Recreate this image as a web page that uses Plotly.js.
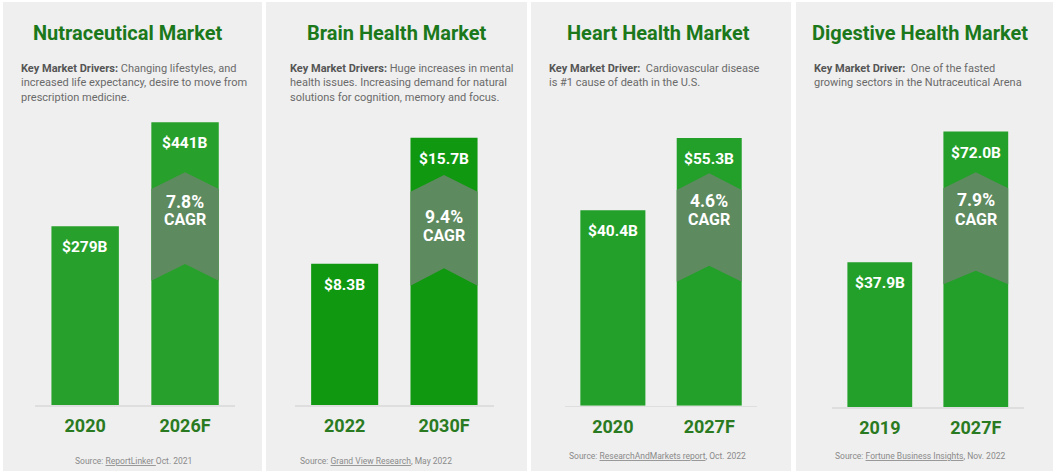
<!DOCTYPE html>
<html>
<head>
<meta charset="utf-8">
<script src="https://cdn.plot.ly/plotly-3.0.1.min.js"></script>
<style>
  html, body { margin: 0; padding: 0; background: #ffffff; }
  #chart { width: 1057px; height: 473px; }
</style>
</head>
<body>
<div id="chart"></div>
<script>
// ---------------- DATA ----------------
const panelTitles = ['Nutraceutical Market', 'Brain Health Market', 'Heart Health Market', 'Digestive Health Market'];

const nutraYears = ['2020', '2026F'];
const nutraValues = [279, 441];
const nutraLabels = ['$279B', '$441B'];

const brainYears = ['2022', '2030F'];
const brainValues = [8.3, 15.7];
const brainLabels = ['$8.3B', '$15.7B'];

const heartYears = ['2020', '2027F'];
const heartValues = [40.4, 55.3];
const heartLabels = ['$40.4B', '$55.3B'];

const digestYears = ['2019', '2027F'];
const digestValues = [37.9, 72.0];
const digestLabels = ['$37.9B', '$72.0B'];

const cagrLabels = ['7.8%', '9.4%', '4.6%', '7.9%'];

const driverTexts = [
  '<b>Key Market Drivers:</b> Changing lifestyles, and<br>increased life expectancy, desire to move from<br>prescription medicine.',
  '<b>Key Market Drivers:</b> Huge increases in mental<br>health issues. Increasing demand for natural<br>solutions for cognition, memory and focus.',
  '<b>Key Market Driver:</b>  Cardiovascular disease<br>is #1 cause of death in the U.S.',
  '<b>Key Market Driver:</b>  One of the fasted<br>growing sectors in the Nutraceutical Arena'
];

const sourceTexts = [
  'Source: <u>ReportLinker </u>Oct. 2021',
  'Source: <u>Grand View Research</u>, May 2022',
  'Source: <u>ResearchAndMarkets report</u>, Oct. 2022',
  'Source: <u>Fortune Business Insights</u>, Nov. 2022'
];

const panelYears = [nutraYears, brainYears, heartYears, digestYears];
const panelValues = [nutraValues, brainValues, heartValues, digestValues];
const panelLabels = [nutraLabels, brainLabels, heartLabels, digestLabels];

// ---------------- STYLE / LAYOUT GEOMETRY (pixels) ----------------
const W = 1057, H = 473;
const FONT = 'Roboto, "Open Sans", Arial, sans-serif';
const geom = [
  {bg: [3, 262],   plot: [35.2, 235.0],  base: 405,   k: 0.641, titleX: 127.5, drvX: 19,    srcX: 133,   srcY: 461, chev: [172.3, 189, 264, 280.7],   pctY: 201.7, cagrY: 220,   color: '#27a12b'},
  {bg: [266, 527], plot: [295.0, 493.7], base: 405,   k: 17.03, titleX: 397,   drvX: 287.7, srcX: 376,   srcY: 461, chev: [175, 191.7, 268.3, 285.7], pctY: 216.7, cagrY: 235.7, color: '#109810'},
  {bg: [531, 791], plot: [564.7, 757.4], base: 405.7, k: 4.84,  titleX: 658.5, drvX: 546.7, srcX: 657,   srcY: 456, chev: [173.3, 190, 265.7, 281.7], pctY: 201,   cagrY: 220,   color: '#22a02a'},
  {bg: [796, 1053],plot: [831.8, 1023.8],base: 407.3, k: 3.83,  titleX: 920,   drvX: 811.7, srcX: 919.5, srcY: 456, chev: [172.3, 188.3, 270.7, 284.3], pctY: 200, cagrY: 219,   color: '#22a02a'}
];
const PLOT_TOP = 100;
const BAR_W = 0.675;
const px = x => x / W;
const py = y => 1 - y / H;

const data = [];
const shapes = [];
const annotations = [];
const layout = {
  width: W, height: H,
  margin: {l: 0, r: 0, t: 0, b: 0},
  paper_bgcolor: '#ffffff',
  plot_bgcolor: 'rgba(0,0,0,0)',
  showlegend: false,
  font: {family: FONT},
  shapes: shapes,
  annotations: annotations
};

geom.forEach((g, i) => {
  const sfx = i === 0 ? '' : String(i + 1);
  const xa = 'x' + sfx, ya = 'y' + sfx;

  // panel background
  shapes.push({type: 'rect', xref: 'paper', yref: 'paper', layer: 'below',
    x0: px(g.bg[0]), x1: px(g.bg[1]), y0: py(471), y1: py(2),
    fillcolor: '#efefef', line: {width: 0}});

  data.push({
    type: 'bar', x: [0, 1], y: panelValues[i], width: [BAR_W, BAR_W],
    xaxis: xa, yaxis: ya,
    marker: {color: g.color, line: {width: 0}},
    hoverinfo: 'skip'
  });

  layout['xaxis' + sfx] = {
    domain: [px(g.plot[0]), px(g.plot[1])],
    range: [-0.5, 1.5], anchor: ya, fixedrange: true,
    tickvals: [0, 1], ticktext: panelYears[i], ticks: '',
    ticklabelstandoff: 4,
    tickfont: {family: FONT, size: 18, color: '#2a7a22', weight: 'bold'},
    showline: true, linecolor: '#dedede', linewidth: 1.5,
    showgrid: false, zeroline: false
  };
  layout['yaxis' + sfx] = {
    domain: [py(g.base), py(PLOT_TOP)],
    range: [0, (g.base - PLOT_TOP) / g.k], anchor: xa,
    visible: false, showgrid: false, zeroline: false, fixedrange: true
  };

  // CAGR chevron on the forecast bar
  const [cTop, cSh, cNotch, cBot] = g.chev;
  const l = 1 - BAR_W / 2, r = 1 + BAR_W / 2;
  shapes.push({type: 'path', xref: xa, yref: 'paper',
    path: `M ${l},${py(cSh)} L 1,${py(cTop)} L ${r},${py(cSh)} L ${r},${py(cBot)} L 1,${py(cNotch)} L ${l},${py(cBot)} Z`,
    fillcolor: '#5e8a5f', line: {width: 0}, layer: 'above'});

  // value labels inside bars
  panelValues[i].forEach((v, j) => {
    annotations.push({xref: xa, yref: ya, x: j, y: v, yanchor: 'middle', yshift: -21,
      text: '<b>' + panelLabels[i][j] + '</b>', showarrow: false,
      font: {family: FONT, size: 15.5, color: '#ffffff'}});
  });

  annotations.push({xref: xa, yref: 'paper', x: 1, y: py(g.pctY), yanchor: 'middle',
    text: '<b>' + cagrLabels[i] + '</b>', showarrow: false,
    font: {family: FONT, size: 17.5, color: '#ffffff'}});
  annotations.push({xref: xa, yref: 'paper', x: 1, y: py(g.cagrY), yanchor: 'middle',
    text: '<b>CAGR</b>', showarrow: false,
    font: {family: FONT, size: 16, color: '#ffffff'}});

  // title
  annotations.push({xref: 'paper', yref: 'paper', x: px(g.titleX), y: py(33),
    xanchor: 'center', yanchor: 'middle', showarrow: false,
    text: '<b>' + panelTitles[i] + '</b>',
    font: {family: FONT, size: 20, color: '#1b781b'}});

  // drivers
  annotations.push({xref: 'paper', yref: 'paper', x: px(g.drvX), y: py(60),
    xanchor: 'left', yanchor: 'top', align: 'left', showarrow: false,
    text: driverTexts[i].replace(/<b>/g, '<b><span style="color:#555555">').replace(/<\/b>/g, '</span></b>'),
    font: {family: FONT, size: 11, color: '#6a6a6a'}});

  // source
  annotations.push({xref: 'paper', yref: 'paper', x: px(g.srcX), y: py(g.srcY),
    xanchor: 'center', yanchor: 'middle', showarrow: false,
    text: sourceTexts[i],
    font: {family: FONT, size: 8.5, color: '#8a8a8a'}});
});

Plotly.newPlot('chart', data, layout, {staticPlot: true, displayModeBar: false});
</script>
</body>
</html>
